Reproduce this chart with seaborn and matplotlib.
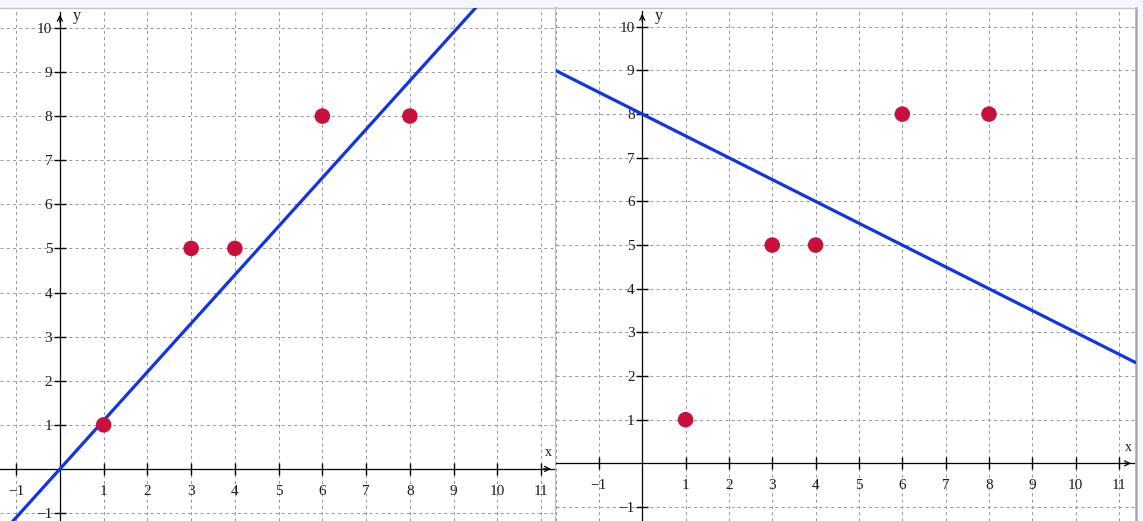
import numpy as np
import pandas as pd
import matplotlib.pyplot as plt
import seaborn as sns

# data points shared by both panels
px = [1, 3, 4, 6, 8]
py = [1, 5, 5, 8, 8]

# fitted lines (slope, intercept) for each panel
left_slope, left_icpt = 1.1, 0.0
right_slope, right_icpt = -0.5, 8.0

x_ticks = [-1, 1, 2, 3, 4, 5, 6, 7, 8, 9, 10, 11]
y_ticks = [-1, 1, 2, 3, 4, 5, 6, 7, 8, 9, 10]

left_xlim = (-1.37, 11.33)
left_ylim = (-1.18, 10.45)
right_xlim = (-2.0, 11.38)
right_ylim = (-1.32, 10.43)

POINT_COLOR = "#c8103c"
LINE_COLOR = "#1034e6"
GRID_COLOR = "#9a9a9a"


def fmt(v, pos=None):
    return str(int(round(v))).replace("-", "\u2212")


def draw_panel(ax, slope, icpt, xlim, ylim):
    ax.set_xlim(*xlim)
    ax.set_ylim(*ylim)
    ax.set_facecolor("white")

    gx = np.arange(int(np.ceil(xlim[0])), int(np.floor(xlim[1])) + 1)
    gy = np.arange(int(np.ceil(ylim[0])), int(np.floor(ylim[1])) + 1)
    for g in gx:
        ax.axvline(g, color=GRID_COLOR, lw=0.75, ls=(0, (3, 3)), zorder=0)
    for g in gy:
        ax.axhline(g, color=GRID_COLOR, lw=0.75, ls=(0, (3, 3)), zorder=0)

    # spines through the origin, borders only on top and right
    ax.spines["top"].set_color("#c4c4c8")
    ax.spines["top"].set_linewidth(1.0)
    ax.spines["right"].set_color("#a8a8a8")
    ax.spines["right"].set_linewidth(1.8)
    ax.spines["left"].set_position(("data", 0))
    ax.spines["bottom"].set_position(("data", 0))
    ax.spines["left"].set_linewidth(0.9)
    ax.spines["bottom"].set_linewidth(0.9)
    ax.spines["left"].set_color("black")
    ax.spines["bottom"].set_color("black")
    ytip = 10.36
    xtip = xlim[1] - 0.04
    ax.spines["left"].set_bounds(ylim[0], ytip)
    ax.spines["bottom"].set_bounds(xlim[0], xtip)
    ax.annotate("", xy=(0, ytip), xytext=(0, ytip - 0.3),
                arrowprops=dict(arrowstyle="->", color="black", lw=0.9,
                                mutation_scale=9), zorder=5)
    ax.annotate("", xy=(xtip, 0), xytext=(xtip - 0.3, 0),
                arrowprops=dict(arrowstyle="->", color="black", lw=0.9,
                                mutation_scale=9), zorder=5)

    ax.set_xticks(x_ticks)
    ax.set_yticks(y_ticks)
    ax.xaxis.set_major_formatter(plt.FuncFormatter(fmt))
    ax.yaxis.set_major_formatter(plt.FuncFormatter(fmt))
    ax.tick_params(bottom=True, left=True, top=False, right=False,
                   direction="inout", length=9, width=1.0, color="black",
                   labelsize=11, labelcolor="#1a1a1a", pad=1)
    ax.tick_params(axis="x", pad=7)
    for lab in ax.get_xticklabels() + ax.get_yticklabels():
        lab.set_family("Liberation Serif")

    ax.text(0.3, ytip + 0.08, "y", family="Liberation Serif", fontsize=11.5,
            ha="left", va="top", color="#1a1a1a")
    ax.text(xtip - 0.12, 0.22, "x", family="Liberation Serif", fontsize=10,
            ha="center", va="bottom", color="#1a1a1a")

    # regression line
    lx = np.array(xlim)
    line_df = pd.DataFrame({"x": lx, "y": slope * lx + icpt})
    sns.lineplot(data=line_df, x="x", y="y", ax=ax, color=LINE_COLOR,
                 lw=2.3, zorder=3)

    pts = pd.DataFrame({"x": px, "y": py})
    sns.scatterplot(data=pts, x="x", y="y", ax=ax, color=POINT_COLOR,
                    s=125, edgecolor="none", zorder=4)
    ax.set_xlabel("")
    ax.set_ylabel("")


sns.set_style("white")
plt.rcParams["font.family"] = ["Liberation Serif", "DejaVu Sans"]

W, H = 1143, 521
fig = plt.figure(figsize=(W / 100, H / 100), dpi=100)
fig.patch.set_facecolor("#f5f7fc")

top = (H - 8) / H
ax1 = fig.add_axes([0, 0, 555.5 / W, top])
ax2 = fig.add_axes([555.5 / W, 0, (1135.5 - 555.5) / W, top])

draw_panel(ax1, left_slope, left_icpt, left_xlim, left_ylim)
draw_panel(ax2, right_slope, right_icpt, right_xlim, right_ylim)

fig.savefig("out.png", dpi=100, facecolor=fig.get_facecolor())
